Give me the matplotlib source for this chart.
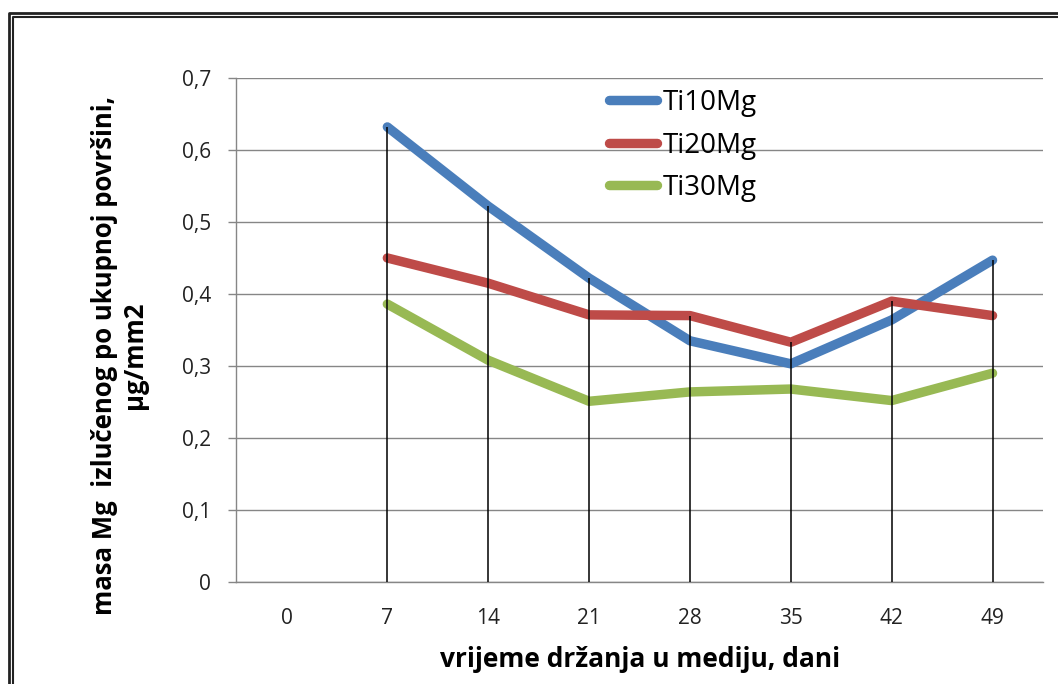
import matplotlib
matplotlib.use("Agg")
import matplotlib.pyplot as plt
from matplotlib.lines import Line2D
from matplotlib.ticker import FuncFormatter

plt.rcParams['font.family'] = ['Open Sans', 'DejaVu Sans']

# days in the medium (category axis) and Mg released per total surface, ug/mm2
days = ['0', '7', '14', '21', '28', '35', '42', '49']
ti10mg = [None, 0.632, 0.522, 0.422, 0.335, 0.303, 0.364, 0.447]
ti20mg = [None, 0.450, 0.415, 0.371, 0.370, 0.333, 0.390, 0.370]
ti30mg = [None, 0.386, 0.308, 0.251, 0.264, 0.268, 0.252, 0.290]

series = [
    ('Ti10Mg', ti10mg, '#4a7ebb'),
    ('Ti20Mg', ti20mg, '#be4b48'),
    ('Ti30Mg', ti30mg, '#98b954'),
]

fig = plt.figure(figsize=(10.58, 6.84), dpi=100)
ax = fig.add_axes([0.2231, 0.1491, 0.7627, 0.7369])

x = list(range(len(days)))
grid_col = '#868686'

for name, vals, col in series:
    xs = [i for i, v in zip(x, vals) if v is not None]
    ys = [v for v in vals if v is not None]
    ax.plot(xs, ys, color=col, lw=6.8, solid_capstyle='round',
            solid_joinstyle='round', label=name, zorder=3)

# drop lines from the highest series value down to the axis
for i in x:
    vals = [s[1][i] for s in series if s[1][i] is not None]
    if vals:
        ax.vlines(i, 0, max(vals), color='black', lw=1.1, zorder=4)

ax.set_xlim(-0.5, len(days) - 0.5)
ax.set_ylim(0, 0.7)
ax.set_xticks(x)
ax.set_xticklabels(days)
ax.set_yticks([i / 10 for i in range(8)])
ax.yaxis.set_major_formatter(FuncFormatter(
    lambda v, p: '0' if v == 0 else f'{v:.1f}'.replace('.', ',')))

ax.grid(axis='y', color=grid_col, lw=1.0, zorder=1)
ax.set_axisbelow(True)
for side in ['top', 'right']:
    ax.spines[side].set_visible(False)
for side in ['left', 'bottom']:
    ax.spines[side].set_color(grid_col)
    ax.spines[side].set_linewidth(1.0)

ax.tick_params(axis='x', length=0, pad=19, labelsize=15, colors='#222222')
ax.tick_params(axis='y', length=6, width=1.0, color=grid_col, pad=12,
               labelsize=15, labelcolor='#222222')

fig.text(0.6049, 0.0351, 'vrijeme držanja u mediju, dani',
         ha='center', va='center', fontsize=19, fontweight='bold')
fig.text(0.1130, 0.4800, 'masa Mg  izlučenog po ukupnoj površini,\nµg/mm2',
         ha='center', va='center', rotation=90, fontsize=18.5,
         fontweight='bold', multialignment='center', linespacing=1.15)

leg = ax.legend(loc='upper left', bbox_to_anchor=(0.448, 1.0), frameon=False,
                fontsize=20, handlelength=1.75, handletextpad=0.2,
                labelspacing=0.52, borderaxespad=0)

# double border around the chart area
for off, lw in [(8.5, 2.0), (12.5, 1.5)]:
    fig.add_artist(Line2D([off / 1058, off / 1058, 1.05],
                          [-0.05, 1 - off / 684 - 4 / 684, 1 - off / 684 - 4 / 684],
                          transform=fig.transFigure, color='#222222', lw=lw))

fig.savefig('out.png', dpi=100, facecolor='white')
